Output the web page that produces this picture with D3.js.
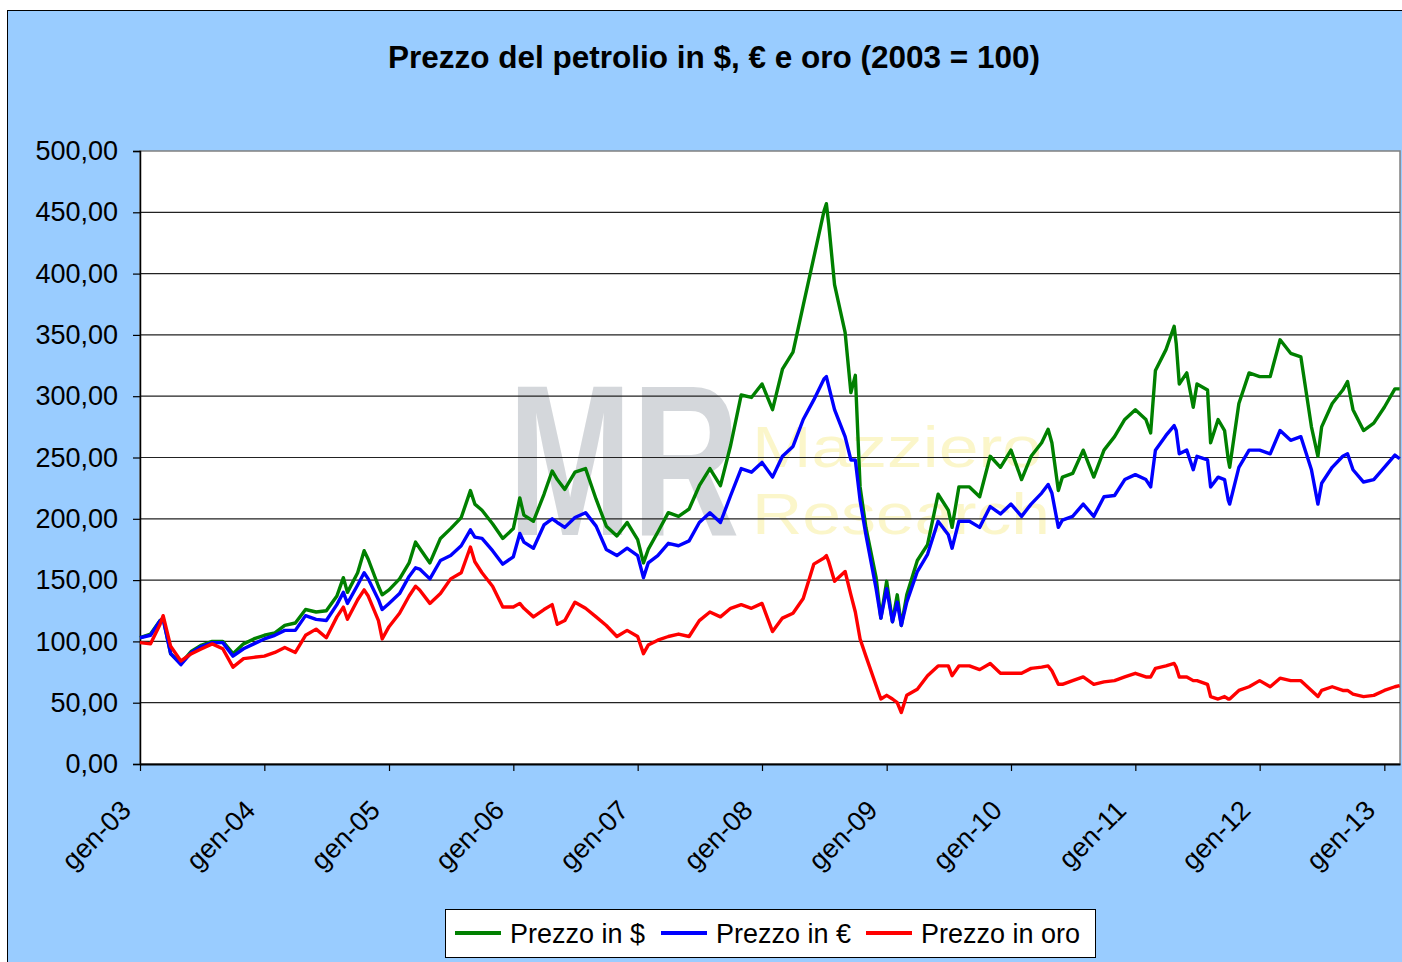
<!DOCTYPE html>
<html>
<head>
<meta charset="utf-8">
<script src="https://cdn.jsdelivr.net/npm/d3@7"></script>
<style>
  html, body { margin: 0; padding: 0; background: #ffffff; }
  svg { display: block; font-family: "Liberation Sans", Arial, sans-serif; }
</style>
</head>
<body>
<svg id="chart" width="1402" height="962"></svg>
<script>
// ---------------- DATA ----------------
const chartTitle = "Prezzo del petrolio in $, € e oro (2003 = 100)";
const seriesNames = ["Prezzo in $", "Prezzo in €", "Prezzo in oro"];
const seriesColors = ["#008000", "#0000FF", "#FF0000"];
const yTicks = [0, 50, 100, 150, 200, 250, 300, 350, 400, 450, 500];
const xTickDates = ["2003-01-01","2004-01-01","2005-01-01","2006-01-01","2007-01-01","2008-01-01","2009-01-01","2010-01-01","2011-01-01","2012-01-01","2013-01-01"];
const xTickLabels = ["gen-03","gen-04","gen-05","gen-06","gen-07","gen-08","gen-09","gen-10","gen-11","gen-12","gen-13"];

const dates = [
"2003-01-01","2003-02-01","2003-03-01","2003-03-10","2003-04-01","2003-05-01","2003-06-01","2003-07-01","2003-08-01","2003-09-01","2003-10-01","2003-11-01","2003-12-01",
"2004-01-01","2004-02-01","2004-03-01","2004-04-01","2004-05-01","2004-06-01","2004-07-01","2004-08-01","2004-08-20","2004-09-01","2004-10-01","2004-10-20","2004-11-01","2004-12-01","2004-12-12",
"2005-01-01","2005-02-01","2005-03-01","2005-03-20","2005-04-01","2005-05-01","2005-06-01","2005-07-01","2005-08-01","2005-08-28","2005-09-10","2005-10-01","2005-11-01","2005-12-01",
"2006-01-01","2006-01-20","2006-02-01","2006-03-01","2006-04-01","2006-04-25","2006-05-10","2006-06-01","2006-07-01","2006-08-01","2006-09-01","2006-10-01","2006-11-01","2006-12-01",
"2007-01-01","2007-01-18","2007-02-01","2007-03-01","2007-04-01","2007-05-01","2007-06-01","2007-07-01","2007-08-01","2007-09-01","2007-10-01","2007-11-01","2007-12-01",
"2008-01-01","2008-02-01","2008-03-01","2008-04-01","2008-05-01","2008-06-01","2008-07-01","2008-07-08","2008-07-15","2008-08-01","2008-09-01","2008-09-18","2008-10-01","2008-10-15","2008-11-01","2008-12-01","2008-12-15",
"2009-01-01","2009-01-18","2009-02-01","2009-02-13","2009-03-01","2009-04-01","2009-05-01","2009-06-01","2009-07-01","2009-07-12","2009-08-01","2009-09-01","2009-10-01","2009-11-01","2009-12-01",
"2010-01-01","2010-02-01","2010-03-01","2010-04-01","2010-04-20","2010-05-01","2010-05-20","2010-06-01","2010-07-01","2010-08-01","2010-09-01","2010-10-01","2010-11-01","2010-12-01",
"2011-01-01","2011-02-01","2011-02-15","2011-03-01","2011-04-01","2011-04-25","2011-05-01","2011-05-10","2011-06-01","2011-06-20","2011-07-01","2011-08-01","2011-08-10","2011-09-01","2011-09-20","2011-10-01","2011-10-05","2011-11-01","2011-12-01",
"2012-01-01","2012-02-01","2012-03-01","2012-04-01","2012-05-01","2012-06-01","2012-06-20","2012-07-01","2012-08-01","2012-09-01","2012-09-15","2012-10-01","2012-11-01","2012-12-01",
"2013-01-01","2013-02-01","2013-02-15"
];

const prezzoDollaro = [
103,106,117,119,90,82,92,97,100,100,90,98,102,
105,107,113,115,126,124,125,137,152,140,156,174,167,145,138,
142,151,164,181,176,164,184,192,201,223,212,207,196,184,
192,217,203,198,220,239,232,224,238,241,216,194,186,197,
183,164,175,189,205,202,208,227,241,227,260,301,299,
310,289,322,336,374,413,451,457,440,391,352,303,317,226,193,152,119,
149,116,138,113,138,166,179,220,207,193,226,226,218,251,242,
256,232,251,262,273,262,223,234,237,256,234,256,267,281,
289,281,270,321,338,357,343,310,319,291,310,305,262,281,272,248,242,294,319,
316,316,346,335,332,275,251,275,294,305,312,289,272,278,
291,306,306
];

const prezzoEuro = [
103,105,117,118,90,81,91,96,99,99,88,94,98,
102,105,109,109,121,118,117,130,140,131,146,156,151,134,126,
131,139,153,160,159,151,166,170,178,191,185,184,174,163,
169,188,181,176,195,200,197,193,201,205,194,175,170,176,
170,152,164,170,180,178,182,197,205,197,219,241,238,
246,234,251,259,281,297,314,316,308,289,267,248,248,215,187,143,119,
143,116,132,113,132,157,171,198,187,176,198,198,193,210,204,
212,202,212,221,228,221,193,199,202,212,202,218,219,232,
236,232,226,256,268,276,272,253,256,240,251,248,226,234,232,215,212,242,256,
256,253,272,264,267,240,212,229,242,251,253,240,230,232,
242,252,249
];

const prezzoOro = [
99,98,114,121,96,84,90,94,98,94,79,86,87,
88,91,95,91,105,110,103,120,128,118,134,142,137,117,102,
112,123,137,145,142,131,139,151,156,177,165,156,145,128,
128,131,127,120,126,130,114,117,132,127,120,113,104,109,
104,90,97,101,104,106,104,117,124,120,127,130,127,
131,108,119,123,135,163,168,170,165,149,157,138,124,102,88,64,53,
56,53,50,42,56,61,72,80,80,72,80,80,77,82,74,
74,74,78,79,80,76,65,65,68,71,65,67,68,71,
74,71,71,78,80,82,79,71,71,68,68,65,55,53,55,53,53,60,63,
68,63,70,68,68,60,55,60,63,60,60,57,55,56,
60,63,64
];

// ---------------- LAYOUT ----------------
const W = 1402, H = 962;
const plot = { left: 140, right: 1400, top: 151, bottom: 764 };
const parse = d3.timeParse("%Y-%m-%d");

const svg = d3.select("#chart");

// chart area background
svg.append("rect")
  .attr("x", 7.5).attr("y", 10.5)
  .attr("width", W).attr("height", H)
  .attr("fill", "#99CCFF").attr("stroke", "#000").attr("stroke-width", 1);

// title
svg.append("text")
  .attr("x", 714).attr("y", 68)
  .attr("text-anchor", "middle")
  .attr("font-size", 31.5).attr("font-weight", "bold")
  .attr("fill", "#000")
  .text(chartTitle);

// plot area
svg.append("rect")
  .attr("x", plot.left).attr("y", plot.top)
  .attr("width", plot.right - plot.left).attr("height", plot.bottom - plot.top)
  .attr("fill", "#ffffff").attr("stroke", "#808080").attr("stroke-width", 1.5);

const x = d3.scaleTime()
  .domain([parse("2003-01-01"), parse("2013-02-16")])
  .range([plot.left, plot.right]);
const y = d3.scaleLinear().domain([0, 500]).range([plot.bottom, plot.top]);

// watermark (faint, behind the data)
const wm = svg.append("g").attr("pointer-events", "none");
wm.append("text")
  .attr("transform", "translate(508,535) scale(1,1.45)")
  .attr("font-size", 149).attr("font-weight", "bold")
  .attr("fill", "#b9bec4").attr("opacity", 0.6)
  .text("MR");
wm.append("text")
  .attr("x", 752).attr("y", 467)
  .attr("font-size", 58)
  .attr("textLength", 290).attr("lengthAdjust", "spacingAndGlyphs")
  .attr("fill", "#f7ec8c").attr("opacity", 0.45)
  .text("Mazziero");
wm.append("text")
  .attr("x", 752).attr("y", 534)
  .attr("font-size", 58)
  .attr("textLength", 298).attr("lengthAdjust", "spacingAndGlyphs")
  .attr("fill", "#f7ec8c").attr("opacity", 0.45)
  .text("Research");

// gridlines
const locale = d3.formatLocale({ decimal: ",", thousands: ".", grouping: [3], currency: ["", " €"] });
const fmt = locale.format(".2f");

svg.append("g")
  .selectAll("line")
  .data(yTicks.filter(v => v > 0 && v < 500))
  .join("line")
  .attr("x1", plot.left).attr("x2", plot.right)
  .attr("y1", d => y(d)).attr("y2", d => y(d))
  .attr("stroke", "#222").attr("stroke-width", 1.2);

// y axis
const yAxis = svg.append("g")
  .attr("transform", `translate(${plot.left},0)`)
  .call(d3.axisLeft(y).tickValues(yTicks).tickFormat(fmt).tickSize(7).tickPadding(15));
yAxis.select(".domain").attr("stroke", "#000").attr("stroke-width", 1.5);
yAxis.selectAll(".tick line").attr("stroke", "#000").attr("stroke-width", 1.2);
yAxis.selectAll(".tick text")
  .attr("font-size", 27).attr("fill", "#000")
  .attr("font-family", "Liberation Sans, Arial, sans-serif");

// x axis
const xAxis = svg.append("g")
  .attr("transform", `translate(0,${plot.bottom})`)
  .call(d3.axisBottom(x)
    .tickValues(xTickDates.map(parse))
    .tickFormat((d, i) => xTickLabels[i])
    .tickSize(7).tickSizeOuter(0));
xAxis.select(".domain").attr("stroke", "#000").attr("stroke-width", 2);
xAxis.selectAll(".tick line").attr("stroke", "#000").attr("stroke-width", 1.2);
xAxis.selectAll(".tick text")
  .attr("font-size", 27).attr("fill", "#000")
  .attr("font-family", "Liberation Sans, Arial, sans-serif")
  .attr("text-anchor", "end")
  .attr("dy", null).attr("y", null)
  .attr("transform", "translate(-8,48) rotate(-45)");

// lines
const seriesData = [prezzoDollaro, prezzoEuro, prezzoOro];
const line = d3.line()
  .x((d, i) => x(parse(dates[i])))
  .y(d => y(d));

svg.append("g")
  .selectAll("path")
  .data(seriesData)
  .join("path")
  .attr("d", d => line(d))
  .attr("fill", "none")
  .attr("stroke", (d, i) => seriesColors[i])
  .attr("stroke-width", 3.4)
  .attr("stroke-linejoin", "round");

// legend
const lg = svg.append("g");
lg.append("rect")
  .attr("x", 445.5).attr("y", 909.5).attr("width", 650).attr("height", 48)
  .attr("fill", "#fff").attr("stroke", "#000").attr("stroke-width", 1);
const legendX = [455, 661, 866];
seriesNames.forEach((name, i) => {
  lg.append("line")
    .attr("x1", legendX[i]).attr("x2", legendX[i] + 46)
    .attr("y1", 933).attr("y2", 933)
    .attr("stroke", seriesColors[i]).attr("stroke-width", 4);
  lg.append("text")
    .attr("x", legendX[i] + 55).attr("y", 943)
    .attr("font-size", 27).attr("fill", "#000")
    .text(name);
});
</script>
</body>
</html>
